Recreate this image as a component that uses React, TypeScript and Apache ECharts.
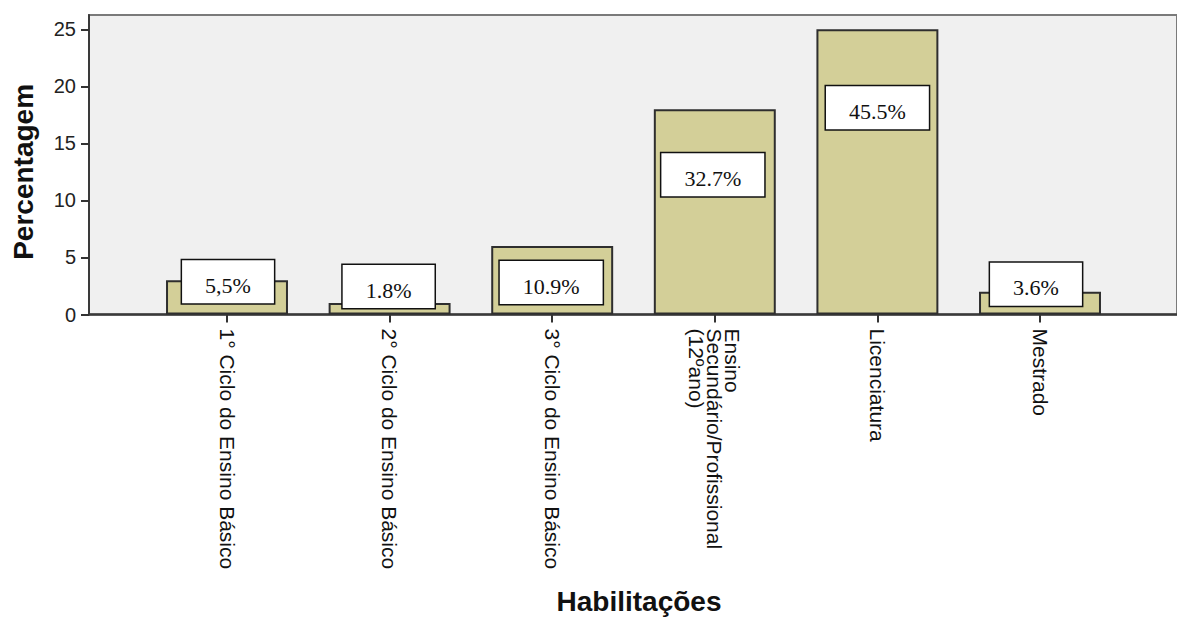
import React, { useEffect, useRef } from "react";
import * as echarts from "echarts";

const categories = [
  "1° Ciclo do Ensino Básico",
  "2° Ciclo do Ensino Básico",
  "3° Ciclo do Ensino Básico",
  "Ensino\nSecundário/Profissional\n(12ºano)",
  "Licenciatura",
  "Mestrado",
];
const counts = [3, 1, 6, 18, 25, 2];
const pctLabels = ["5,5%", "1.8%", "10.9%", "32.7%", "45.5%", "3.6%"];
const yTicks = [0, 5, 10, 15, 20, 25];

// label box placement (styling, px offsets from the bar top)
const labelOffsets: [number, number][] = [
  [1, 23],
  [-1, 5],
  [-1, 58],
  [-2, 87],
  [0, 100],
  [-4, 14],
];

const SANS = "'Liberation Sans', Arial, sans-serif";
const SERIF = "'Liberation Serif', 'Times New Roman', serif";

export default function App() {
  const ref = useRef<HTMLDivElement>(null);
  useEffect(() => {
    if (!ref.current) return;
    const chart = echarts.init(ref.current, null, { renderer: "svg" });
    const yMax = yTicks[yTicks.length - 1];
    const option: any = {
      animation: false,
      backgroundColor: "#ffffff",
      grid: [
        {
          left: 89,
          top: 15,
          right: -10,
          bottom: 304.5,
          show: true,
          backgroundColor: "#f0f0f0",
          borderColor: "#7a7a7a",
          borderWidth: 2,
        },
        {
          left: 145.7,
          width: 975.6,
          top: 29.3,
          bottom: 304.5,
        },
      ],
      xAxis: [
        {
          gridIndex: 0,
          type: "value",
          min: 0,
          max: 1,
          axisLine: { show: true, onZero: false, lineStyle: { color: "#3a3a3a", width: 2.5 } },
          axisTick: { show: false },
          axisLabel: { show: false },
          splitLine: { show: false },
        },
        {
          gridIndex: 1,
          type: "category",
          data: categories,
          axisLine: { show: false },
          axisTick: {
            show: true,
            alignWithLabel: true,
            length: 8,
            lineStyle: { color: "#333", width: 2 },
          },
          axisLabel: {
            rotate: -90,
            margin: 14,
            interval: 0,
            fontSize: 21,
            lineHeight: 18,
            color: "#111",
            fontFamily: SANS,
          },
          name: "Habilitações",
          nameLocation: "middle",
          nameGap: 273,
          nameTextStyle: {
            fontSize: 28,
            fontWeight: "bold",
            color: "#111",
            fontFamily: SANS,
            padding: [0, 0, 0, 11],
          },
        },
      ],
      yAxis: [
        {
          gridIndex: 0,
          type: "value",
          min: 0,
          max: 1,
          axisLine: { show: true, onZero: false, lineStyle: { color: "#3a3a3a", width: 2 } },
          axisTick: { show: false },
          axisLabel: { show: false },
          splitLine: { show: false },
        },
        {
          gridIndex: 1,
          type: "value",
          min: 0,
          max: yMax,
          interval: 5,
          offset: 56.7,
          axisLine: { show: false },
          axisTick: { show: true, length: 8, lineStyle: { color: "#333", width: 2 } },
          axisLabel: {
            margin: 13,
            fontSize: 20,
            color: "#222",
            fontFamily: SANS,
          },
          splitLine: { show: false },
          name: "Percentagem",
          nameLocation: "middle",
          nameRotate: 90,
          nameGap: 52,
          nameTextStyle: {
            fontSize: 28,
            fontWeight: "bold",
            color: "#111",
            fontFamily: SANS,
          },
        },
      ],
      series: [
        {
          type: "bar",
          xAxisIndex: 1,
          yAxisIndex: 1,
          barWidth: "75%",
          itemStyle: { color: "#d3cf98", borderColor: "#2e2e2e", borderWidth: 2 },
          data: counts.map((v, i) => ({
            value: v,
            label: {
              show: true,
              position: "top",
              distance: 0,
              offset: labelOffsets[i],
              formatter: pctLabels[i],
              fontFamily: SERIF,
              fontSize: 22,
              lineHeight: 22,
              color: "#111",
              backgroundColor: "#ffffff",
              borderColor: "#111",
              borderWidth: 1.5,
              padding: [14, 23, 7, 23],
            },
          })),
        },
      ],
    };
    chart.setOption(option);
    return () => chart.dispose();
  }, []);
  return (
    <div
      ref={ref}
      style={{ position: "fixed", left: 0, top: 0, width: 1177, height: 619 }}
    />
  );
}
